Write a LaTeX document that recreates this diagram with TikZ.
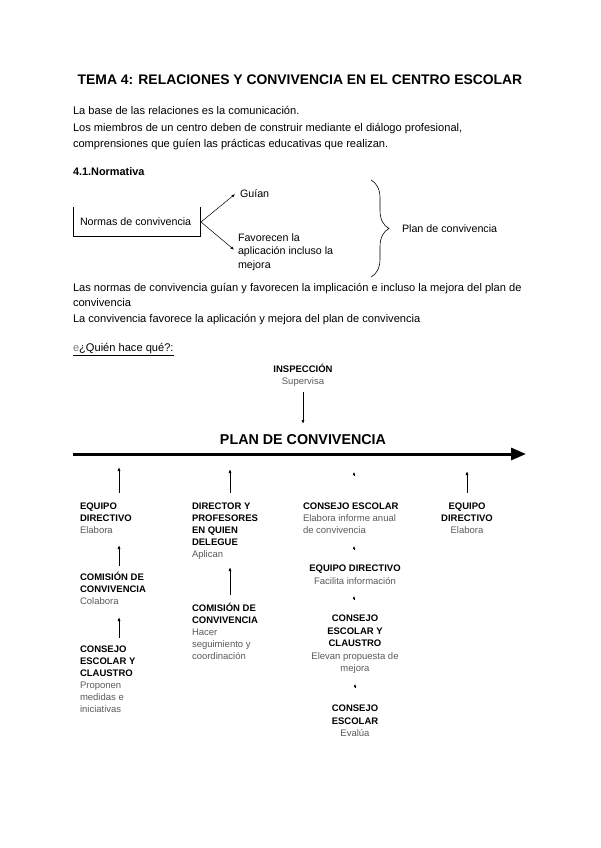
\documentclass[tikz,border=0pt]{standalone}
\usepackage{fontspec}
\setmainfont{Liberation Sans}
\usetikzlibrary{arrows.meta,decorations.pathreplacing}
\definecolor{desc}{gray}{0.35}
\begin{document}
\begin{tikzpicture}[x=1pt,y=-1pt,
  every node/.style={inner sep=0pt, outer sep=0pt},
  body/.style={font=\fontsize{11.1}{15}\selectfont, anchor=base west},
  norm/.style={font=\fontsize{10.7}{13.5}\selectfont, align=left, anchor=base west},
  lab/.style={font=\fontsize{9.5}{12}\selectfont, align=left, anchor=base west},
  labc/.style={font=\fontsize{9.5}{12.5}\selectfont, align=center, anchor=base},
  thinarrow/.style={line width=0.7pt, -{Latex[length=4pt,width=3pt]}},
  tinyhead/.style={line width=0.5pt, -{Latex[length=3pt,width=2.6pt]}},
]
\useasboundingbox (0,0) rectangle (600,848);

% title and text
\node[font=\bfseries\fontsize{13.9}{16}\selectfont, anchor=base] (title) at (300,85)
  {TEMA 4: RELACIONES Y CONVIVENCIA EN EL CENTRO ESCOLAR};
\node[body] (p1) at (73,115) {La base de las relaciones es la comunicación.};
\node[body] (p2) at (73,131.5) {Los miembros de un centro deben de construir mediante el diálogo profesional,};
\node[body] (p3) at (73,147) {comprensiones que guíen las prácticas educativas que realizan.};
\node[body, font=\bfseries\fontsize{10.9}{15}\selectfont] (sec) at (73,175.5) {4.1.Normativa};

% normativa diagram
\node[norm] (normas) at (80,225) {Normas de convivencia};
\coordinate (bxtl) at (73,207);
\coordinate (bxbr) at (200,236);
\draw[line width=0.6pt] (bxtl) |- (bxbr) -- (bxbr |- bxtl);
\coordinate (bxr) at (201,222);
\node[norm] (guian) at (240,197) {Guían};
\node[norm] (fav) at (238,268) {Favorecen la\\aplicación incluso la\\mejora};
\draw[line width=0.5pt, -{Latex[length=3.5pt,width=2.8pt]}] (bxr) -- ([xshift=-5pt,yshift=-1pt]guian.west);
\draw[line width=0.5pt, -{Latex[length=3.5pt,width=2.8pt]}] (bxr) -- ([xshift=-4pt,yshift=2pt]fav.west);
\draw[line width=0.6pt, decorate, decoration={brace, amplitude=18pt}] (371,180) -- (371,277);
\node[norm] (planc) at (402,232.5) {Plan de convivencia};

\node[body] (p4) at (73,291.5) {Las normas de convivencia guían y favorecen la implicación e incluso la mejora del plan de};
\node[body] (p5) at (73,306) {convivencia};
\node[body] (p6) at (73,322) {La convivencia favorece la aplicación y mejora del plan de convivencia};
\node[body] (quien) at (73,351) {\underline{\textcolor{gray}{e}¿Quién hace qué?:}};

% quien hace que diagram
\node[labc] (insp) at (303,384.5) {\textbf{INSPECCIÓN}\\\textcolor{desc}{Supervisa}};
\node[font=\bfseries\fontsize{14.3}{16}\selectfont, anchor=base] (plan) at (303,444.5) {PLAN DE CONVIVENCIA};
\coordinate (inspend) at (303,424);
\draw[thinarrow] (inspend |- insp.south) ++(0,6) -- (inspend);
\coordinate (axL) at (73,454);
\coordinate (axR) at (526,454);
\draw[line width=3pt, -{Triangle[length=15pt,width=12pt]}] (axL) -- (axR);

% column 1
\node[lab] (eq1) at (80,533.5) {\textbf{EQUIPO}\\\textbf{DIRECTIVO}\\\textcolor{desc}{Elabora}};
\node[lab] (com1) at (80,604.5) {\textbf{COMISIÓN DE}\\\textbf{CONVIVENCIA}\\\textcolor{desc}{Colabora}};
\node[lab] (cons1) at (80,712.5) {\textbf{CONSEJO}\\\textbf{ESCOLAR Y}\\\textbf{CLAUSTRO}\\\textcolor{desc}{Proponen}\\\textcolor{desc}{medidas e}\\\textcolor{desc}{iniciativas}};
\coordinate (t1a) at (119,467);
\coordinate (t1b) at (119,545);
\coordinate (t1c) at (119,617);
\draw[thinarrow] (t1a |- eq1.north) ++(0,-10) -- (t1a);
\draw[thinarrow] (t1b |- com1.north) ++(0,-6) -- (t1b);
\draw[thinarrow] (t1c |- cons1.north) ++(0,-8) -- (t1c);

% column 2
\node[lab] (dir2) at (192,557.5) {\textbf{DIRECTOR Y}\\\textbf{PROFESORES}\\\textbf{EN QUIEN}\\\textbf{DELEGUE}\\\textcolor{desc}{Aplican}};
\node[lab] (com2) at (192,659.5) {\textbf{COMISIÓN DE}\\\textbf{CONVIVENCIA}\\\textcolor{desc}{Hacer}\\\textcolor{desc}{seguimiento y}\\\textcolor{desc}{coordinación}};
\coordinate (t2a) at (230,469);
\coordinate (t2b) at (230,567);
\draw[thinarrow] (t2a |- dir2.north) ++(0,-10) -- (t2a);
\draw[thinarrow] (t2b |- com2.north) ++(0,-8) -- (t2b);

% column 3
\node[lab] (cons3) at (303,533.5) {\textbf{CONSEJO ESCOLAR}\\\textcolor{desc}{Elabora informe anual}\\\textcolor{desc}{de convivencia}};
\node[labc] (eqd3) at (355,584) {\textbf{EQUIPO DIRECTIVO}\\\textcolor{desc}{Facilita información}};
\node[labc] (cons3b) at (355,671.5) {\textbf{CONSEJO}\\\textbf{ESCOLAR Y}\\\textbf{CLAUSTRO}\\\textcolor{desc}{Elevan propuesta de}\\\textcolor{desc}{mejora}};
\node[labc] (cons3c) at (355,736.5) {\textbf{CONSEJO}\\\textbf{ESCOLAR}\\\textcolor{desc}{Evalúa}};
\coordinate (h1) at (354,472);
\coordinate (h2) at (354,546);
\coordinate (h3) at (354,596);
\coordinate (h4) at (355,684);
\draw[tinyhead] (h1 |- cons3.north) ++(0,-28) -- (h1);
\draw[tinyhead] (h2 |- eqd3.north) ++(0,-16) -- (h2);
\draw[tinyhead] (h3 |- cons3b.north) ++(0,-16) -- (h3);
\draw[tinyhead] (h4 |- cons3c.north) ++(0,-18) -- (h4);

% column 4
\node[labc, font=\fontsize{9.5}{12}\selectfont] (eq4) at (467,533.5) {\textbf{EQUIPO}\\\textbf{DIRECTIVO}\\\textcolor{desc}{Elabora}};
\coordinate (t4a) at (467,471);
\draw[thinarrow] (t4a |- eq4.north) ++(0,-10) -- (t4a);
\end{tikzpicture}
\end{document}
